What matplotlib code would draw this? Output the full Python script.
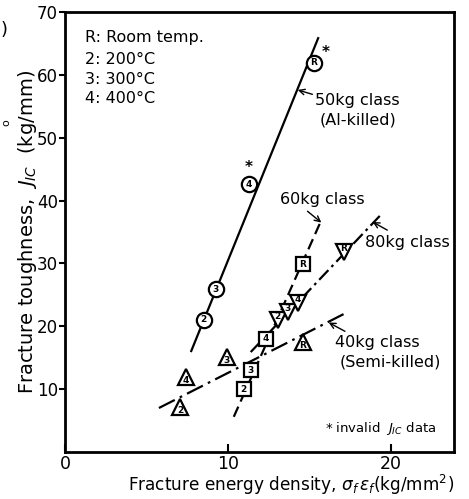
import matplotlib
matplotlib.use("Agg")
import matplotlib.pyplot as plt

plt.rcParams['font.family'] = ['DejaVu Sans']
plt.rcParams['mathtext.fontset'] = 'dejavusans'

# 50kg class (Al-killed): circles
c50_x = [8.53, 9.26, 11.29, 15.28]
c50_y = [21.0, 25.9, 42.6, 61.9]
c50_lab = ["2", "3", "4", "R"]
l50_x = [7.73, 15.58]
l50_y = [15.9, 66.0]

# 60kg class: squares
c60_x = [10.98, 11.41, 12.33, 14.60]
c60_y = [10.0, 13.0, 18.0, 29.9]
c60_lab = ["2", "3", "4", "R"]
l60_x = [10.37, 15.7]
l60_y = [5.6, 36.6]

# 80kg class: inverted triangles
c80_x = [13.07, 13.68, 14.29, 17.12]
c80_y = [21.0, 22.3, 23.7, 31.8]
c80_lab = ["2", "3", "4", "R"]
l80_x = [11.41, 19.5]
l80_y = [15.9, 38.0]

# 40kg class (Semi-killed): triangles
c40_x = [7.06, 7.42, 9.94, 14.6]
c40_y = [7.2, 11.9, 15.1, 17.5]
c40_lab = ["2", "4", "3", "R"]
l40_x = [5.77, 17.24]
l40_y = [7.0, 22.1]

# invalid J_IC data markers
inv_x = [11.29, 16.0]
inv_y = [45.2, 63.5]

legend_lines = ["R: Room temp.", "2: 200°C", "3: 300°C", "4: 400°C"]
legend_y = [65.9, 62.4, 59.3, 56.3]

xticks = [0, 10, 20]
yticks = [10, 20, 30, 40, 50, 60, 70]

fig = plt.figure(figsize=(4.69, 4.99), dpi=100)
ax = fig.add_axes([65/469, 1-452/499, (454-65)/469, (452-12)/499])
ax.set_xlim(0, 23.9)
ax.set_ylim(0, 70)

lw = 1.6
ax.plot(l50_x, l50_y, color='black', lw=lw, solid_capstyle='butt')
ax.plot(l60_x, l60_y, color='black', lw=lw, linestyle=(0, (5, 2.5)))
ax.plot(l80_x, l80_y, color='black', lw=lw, linestyle=(0, (6, 2, 1.2, 2)))
ax.plot(l40_x, l40_y, color='black', lw=lw, linestyle=(0, (8, 2.5, 1.2, 2.5)))

def pts(xs, ys, labs, marker, ms):
    ax.plot(xs, ys, linestyle='none', marker=marker, ms=ms, mfc='white',
            mec='black', mew=1.6, zorder=3)
    for x, y, t in zip(xs, ys, labs):
        dy = 0
        if marker == '^':
            dy = -0.6
        elif marker == 'v':
            dy = 0.6
        ax.text(x, y + dy, t, ha='center', va='center', fontsize=6.5,
                fontweight='bold', zorder=4)

pts(c50_x, c50_y, c50_lab, 'o', 11)
pts(c60_x, c60_y, c60_lab, 's', 10)
pts(c80_x, c80_y, c80_lab, 'v', 11)
pts(c40_x, c40_y, c40_lab, '^', 11)

for x, y in zip(inv_x, inv_y):
    ax.text(x, y, "*", ha='center', va='center', fontsize=11, fontweight='bold')

for t, y in zip(legend_lines, legend_y):
    ax.text(1.23, y, t, ha='left', va='center', fontsize=11.5)

fs = 11.5
ann = dict(arrowstyle='->', color='black', lw=1.0, shrinkA=0, shrinkB=0)
ax.text(15.35, 56.0, "50kg class", ha='left', va='center', fontsize=fs)
ax.text(15.65, 52.8, "(Al-killed)", ha='left', va='center', fontsize=fs)
ax.annotate("", xy=(14.3, 57.6), xytext=(15.2, 56.9), arrowprops=ann)

ax.text(13.2, 40.1, "60kg class", ha='left', va='center', fontsize=fs)
ax.annotate("", xy=(15.75, 36.5), xytext=(14.9, 38.3), arrowprops=ann)

ax.text(18.45, 33.4, "80kg class", ha='left', va='center', fontsize=fs)
ax.annotate("", xy=(18.9, 36.6), xytext=(19.8, 35.3), arrowprops=ann)

ax.text(16.6, 17.5, "40kg class", ha='left', va='center', fontsize=fs)
ax.text(16.9, 14.3, "(Semi-killed)", ha='left', va='center', fontsize=fs)
ax.annotate("", xy=(16.2, 20.6), xytext=(17.2, 19.2), arrowprops=ann)

ax.text(16.0, 3.8, "* invalid  $J_{IC}$ data", ha='left', va='center', fontsize=9.5)

ax.set_xticks(xticks)
ax.set_yticks(yticks)
ax.tick_params(axis='x', direction='in', length=6, width=1.5, labelsize=12.5, pad=2)
ax.tick_params(axis='y', direction='out', length=4, width=1.5, labelsize=12, pad=1)
for s in ax.spines.values():
    s.set_linewidth(2)

ax.set_xlabel(r"Fracture energy density, $\sigma_f\,\varepsilon_f$(kg/mm$^2$)", fontsize=12.2)
ax.xaxis.set_label_coords(0.58, -0.076)
ax.xaxis.label.set_va('center')
ax.set_ylabel(r"Fracture toughness,  $J_{IC}$  (kg/mm)", fontsize=14)
ax.yaxis.set_label_coords(-0.097, 0.5)
ax.yaxis.label.set_va('center')

fig.text(6/469, 1-123/499, "o", rotation=90, ha='center', va='center', fontsize=8)
fig.text(4/469, 1-30/499, ")", ha='center', va='center', fontsize=13)

fig.savefig("out.png", dpi=100)
